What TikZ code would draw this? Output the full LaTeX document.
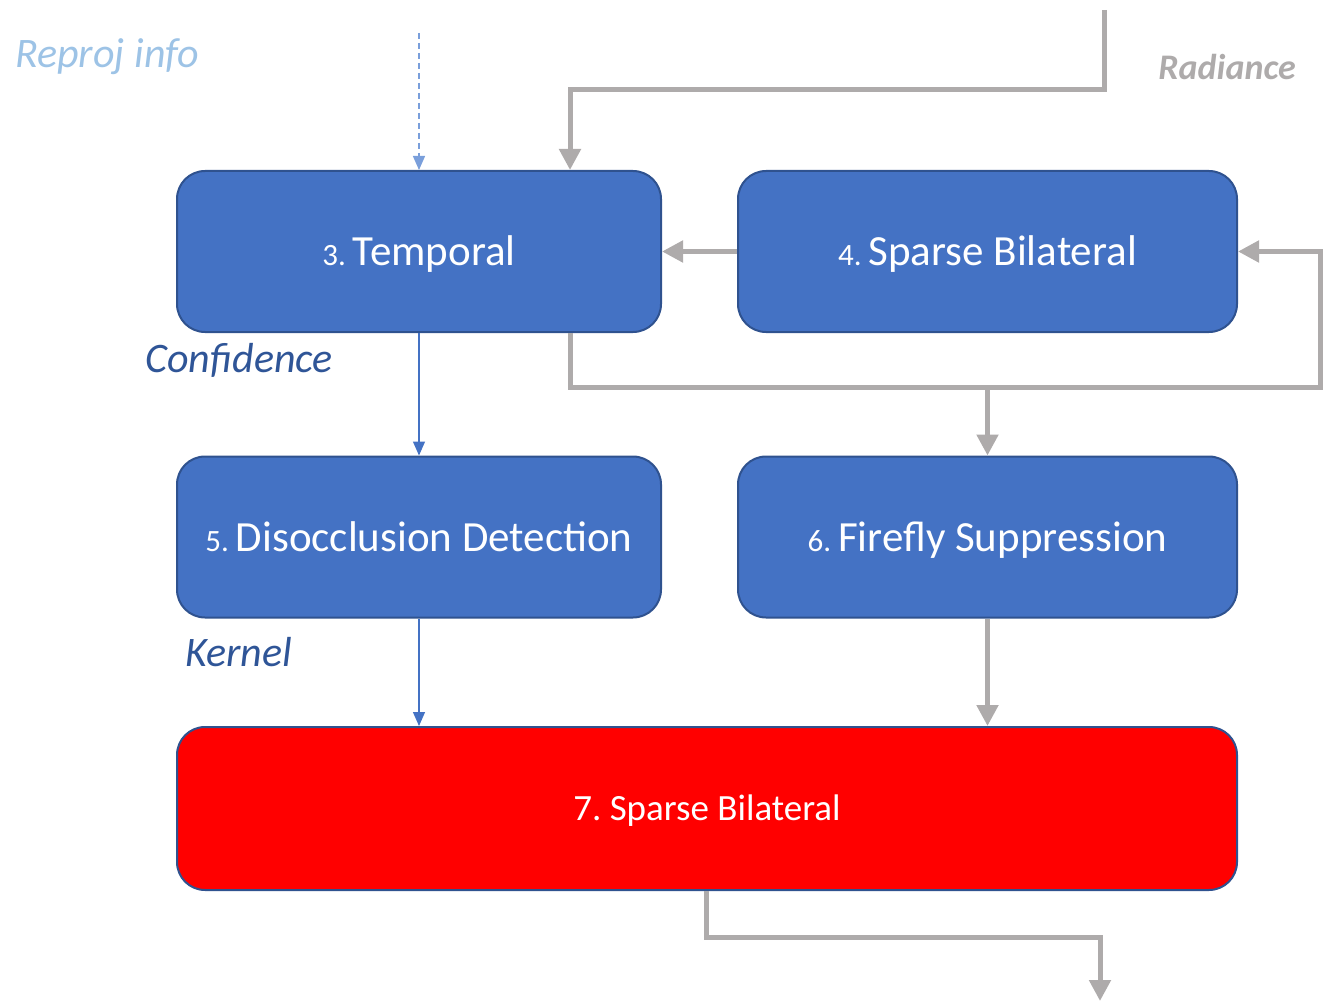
\documentclass[tikz,border=0pt]{standalone}
\usepackage{fontspec}
\setmainfont{Carlito}
\frenchspacing
\usetikzlibrary{arrows.meta}
\definecolor{boxblue}{HTML}{4472C4}
\definecolor{boxedge}{HTML}{2F528F}
\definecolor{flowgray}{HTML}{AEABAB}
\definecolor{lightblue}{HTML}{9DC3E6}
\definecolor{darkblue}{HTML}{2F5597}
\definecolor{dashblue}{HTML}{7A9FDB}
\tikzset{
  stagebox/.style={draw=boxedge, line width=2pt, fill=boxblue, rounded corners=28pt,
    text=white, minimum height=161pt, align=center, inner sep=0pt,
    text height=28pt, text depth=0pt},
  grayflow/.style={draw=flowgray, line width=5pt, -{Triangle[width=21pt,length=21pt]}},
  blueflow/.style={draw=boxblue, line width=1.3pt, -{Triangle[width=12pt,length=14pt]}},
  dashflow/.style={draw=dashblue, line width=1.3pt, dash pattern=on 6pt off 4pt, -{Triangle[width=12pt,length=14pt]}},
  lbl/.style={font=\fontsize{42}{46}\selectfont\itshape, inner sep=0pt},
}
\newcommand{\numsz}{\fontsize{31}{34}\selectfont}
\newcommand{\txtsz}{\fontsize{43}{47}\selectfont}
\begin{document}
\begin{tikzpicture}[x=1pt,y=-1pt]
\useasboundingbox (0,0) rectangle (1326,1003);
% boxes
\node[stagebox, minimum width=484pt] (b3) at (419,251.5) {\numsz 3.\ \txtsz Temporal};
\node[stagebox, minimum width=499pt] (b4) at (987.5,251.5) {\numsz 4.\ \txtsz Sparse Bilateral};
\node[stagebox, minimum width=484pt] (b5) at (419,537) {\numsz 5.\ \txtsz Disocclusion Detection};
\node[stagebox, minimum width=499pt] (b6) at (987.5,537) {\numsz 6.\ \txtsz Firefly Suppression};
\node[stagebox, fill=red, minimum width=1060pt, minimum height=163pt, text height=24pt] (b7) at (707,808.5) {\fontsize{37}{40}\selectfont 7. Sparse Bilateral};
% labels
\node[lbl, text=lightblue, anchor=west] (reproj) at (15,57) {Reproj info};
\node[lbl, text=flowgray, anchor=east, font=\fontsize{36}{40}\selectfont\bfseries\itshape] (rad) at (1296,67) {Radiance};
\node[lbl, text=darkblue, anchor=west] (conf) at (145,360) {Confidence};
\node[lbl, text=darkblue, anchor=west] (kern) at (185,652) {Kernel};
% helper coordinates
\coordinate (rtop) at (1104,10);
\coordinate (rbend) at (1104,90);
\coordinate (x570) at (570,0);
\coordinate (dtop) at (419,33);
\coordinate (lpbend) at (570,387);
\coordinate (lpright) at (1320,387);
\coordinate (split) at (987.5,387);
\coordinate (x706) at (706,0);
\coordinate (outbend) at (706,937);
\coordinate (outright) at (1100,937);
\coordinate (outend) at (1100,1001);
% connectors
\draw[dashflow] (dtop) -- (b3.north);
\draw[grayflow] (rtop) -- (rbend) -| (b3.north -| x570);
\draw[grayflow] (b4.west) -- (b3.east);
\draw[grayflow] (b3.south -| x570) -- (lpbend) -- (lpright) |- (b4.east);
\draw[grayflow] (split) -- (b6.north);
\draw[blueflow] (b3.south) -- (b5.north);
\draw[blueflow] (b5.south) -- (b7.north -| b5.south);
\draw[grayflow] (b6.south) -- (b7.north -| b6.south);
\draw[grayflow] (b7.south -| x706) -- (outbend) -- (outright) -- (outend);
\end{tikzpicture}
\end{document}
